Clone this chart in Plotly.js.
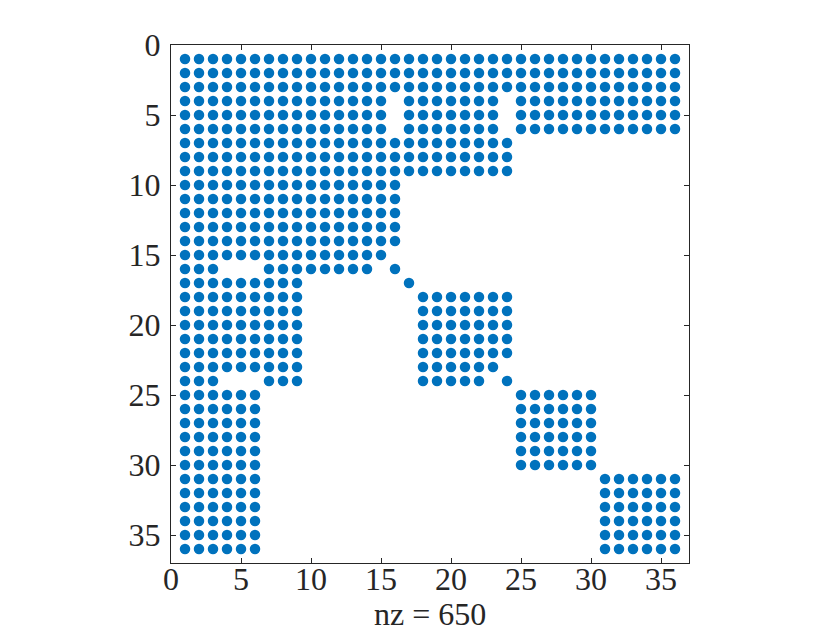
<!DOCTYPE html>
<html>
<head>
<meta charset="utf-8">
<script src="https://cdn.plot.ly/plotly-3.0.1.min.js"></script>
<style>
  body { margin: 0; background: #fff; }
  #spy-plot { width: 830px; height: 633px; }
</style>
</head>
<body>
<div id="spy-plot"></div>
<script>
// nonzero column runs [first, last] for each row 1..36
var rowRuns = [
    [[1, 36]],
    [[1, 36]],
    [[1, 36]],
    [[1, 15], [17, 23], [25, 36]],
    [[1, 15], [17, 23], [25, 36]],
    [[1, 15], [17, 23], [25, 36]],
    [[1, 24]],
    [[1, 24]],
    [[1, 24]],
    [[1, 16]],
    [[1, 16]],
    [[1, 16]],
    [[1, 16]],
    [[1, 16]],
    [[1, 15]],
    [[1, 3], [7, 14], [16, 16]],
    [[1, 9], [17, 17]],
    [[1, 9], [18, 24]],
    [[1, 9], [18, 24]],
    [[1, 9], [18, 24]],
    [[1, 9], [18, 24]],
    [[1, 9], [18, 24]],
    [[1, 9], [18, 23]],
    [[1, 3], [7, 9], [18, 22], [24, 24]],
    [[1, 6], [25, 30]],
    [[1, 6], [25, 30]],
    [[1, 6], [25, 30]],
    [[1, 6], [25, 30]],
    [[1, 6], [25, 30]],
    [[1, 6], [25, 30]],
    [[1, 6], [31, 36]],
    [[1, 6], [31, 36]],
    [[1, 6], [31, 36]],
    [[1, 6], [31, 36]],
    [[1, 6], [31, 36]],
    [[1, 6], [31, 36]]
];

var tickVals = [0, 5, 10, 15, 20, 25, 30, 35];

var cols = [];
var rows = [];
rowRuns.forEach(function (runs, i) {
    runs.forEach(function (run) {
        for (var c = run[0]; c <= run[1]; c++) {
            cols.push(c);
            rows.push(i + 1);
        }
    });
});

var trace = {
    x: cols,
    y: rows,
    type: "scatter",
    mode: "markers",
    marker: {color: "#0072BD", size: 10.5},
    hoverinfo: "skip"
};

var axisStyle = {
    range: [0, 37],
    tickvals: tickVals,
    ticks: "inside",
    ticklen: 5,
    tickcolor: "#262626",
    showline: true,
    linecolor: "#262626",
    linewidth: 1,
    mirror: "ticks",
    showgrid: false,
    zeroline: false
};

var layout = {
    width: 830,
    height: 633,
    margin: {l: 171, r: 141, t: 45, b: 70},
    paper_bgcolor: "#ffffff",
    plot_bgcolor: "#ffffff",
    font: {family: "Liberation Serif", size: 32, color: "#262626"},
    showlegend: false,
    xaxis: Object.assign({}, axisStyle, {
        ticklabelstandoff: -12
    }),
    yaxis: Object.assign({}, axisStyle, {
        range: [37, 0],
        ticklabelstandoff: 3
    }),
    // spy's x label
    annotations: [{
        text: "nz = " + cols.length,
        xref: "paper", yref: "paper",
        x: 0.5, y: 0,
        xanchor: "center", yanchor: "top",
        yshift: -31,
        showarrow: false,
        font: {size: 32}
    }]
};

Plotly.newPlot("spy-plot", [trace], layout, {staticPlot: true});
</script>
</body>
</html>
